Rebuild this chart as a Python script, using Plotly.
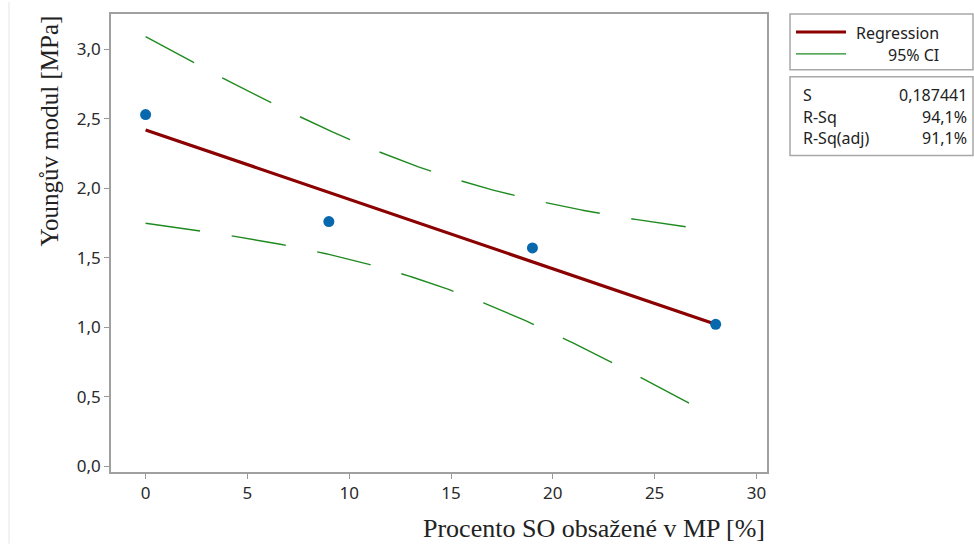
import numpy as np
import plotly.graph_objects as go

# ---- data ----
x_pct = [0, 9, 19, 28]                 # Procento SO obsažené v MP [%]
y_mod = [2.53, 1.76, 1.57, 1.02]       # Youngův modul [MPa]
stat_labels = ["S", "R-Sq", "R-Sq(adj)"]
stat_values = ["0,187441", "94,1%", "91,1%"]
S_value = 0.187441
t_crit = 4.303                          # t(0.975, df=2)
x_ticks = [0, 5, 10, 15, 20, 25, 30]
y_ticks = [0, 0.5, 1.0, 1.5, 2.0, 2.5, 3.0]

# ---- fit ----
xa = np.array(x_pct, float)
ya = np.array(y_mod, float)
slope, intercept = np.polyfit(xa, ya, 1)
xf = np.linspace(xa.min(), xa.max(), 200)
yf = intercept + slope * xf
n = len(xa)
sxx = ((xa - xa.mean()) ** 2).sum()
half = t_crit * S_value * np.sqrt(1 / n + (xf - xa.mean()) ** 2 / sxx)

W, H = 974, 544
L, R, T, B = 111, 767, 12, 472
pw, ph = R - L, B - T
def px(xp):
    return (xp - L) / pw
def py(yp):
    return (B - yp) / ph

fig = go.Figure()
ci_col = "#1f8a1f"
fig.add_trace(go.Scatter(x=xf, y=yf + half, mode="lines",
                         line=dict(color=ci_col, width=1.4, dash="55px,32px"),
                         hoverinfo="skip"))
fig.add_trace(go.Scatter(x=xf, y=yf - half, mode="lines",
                         line=dict(color=ci_col, width=1.4, dash="55px,32px"),
                         hoverinfo="skip"))
fig.add_trace(go.Scatter(x=xf, y=yf, mode="lines",
                         line=dict(color="#8b0000", width=3.2), hoverinfo="skip"))
fig.add_trace(go.Scatter(x=x_pct, y=y_mod, mode="markers",
                         marker=dict(color="#0868ad", size=11)))

tickfont = dict(family="Noto Sans, DejaVu Sans, sans-serif", size=17, color="#2a2a2a")
fig.update_layout(
    width=W, height=H, showlegend=False,
    margin=dict(l=L, r=W - R, t=T, b=H - B, pad=0),
    paper_bgcolor="white", plot_bgcolor="white",
    separators=", ",
    xaxis=dict(range=[-1.70, 30.52], tickvals=x_ticks, ticks="outside", ticklen=5,
               tickcolor="#999999", showgrid=False, zeroline=False, showline=True,
               linecolor="#a0a0a0", linewidth=1.5, mirror=True, tickfont=tickfont),
    yaxis=dict(range=[-0.043, 3.254], tickvals=y_ticks, tickformat=".1f", ticks="outside",
               ticklen=5, tickcolor="#999999", showgrid=False, zeroline=False,
               showline=True, linecolor="#a0a0a0", linewidth=1.5, mirror=True,
               tickfont=tickfont),
)

serif_x = dict(family="Liberation Serif, Times New Roman, serif", size=26, color="#222222")
serif_y = dict(family="Liberation Serif, Times New Roman, serif", size=25, color="#222222")
ann = []
ann.append(dict(xref="paper", yref="paper", x=px(767), y=py(529), text="Procento SO obsažené v MP [%]",
                showarrow=False, xanchor="right", yanchor="middle", font=serif_x))
ann.append(dict(xref="paper", yref="paper", x=px(49), y=py(12), text="Youngův modul [MPa]",
                showarrow=False, textangle=-90, xanchor="center", yanchor="top", font=serif_y))

lfont = dict(family="Noto Sans, DejaVu Sans, sans-serif", size=16, color="#222222")
ann.append(dict(xref="paper", yref="paper", x=px(941), y=py(31), text="Regression",
                showarrow=False, xanchor="right", yanchor="middle", font=lfont))
ann.append(dict(xref="paper", yref="paper", x=px(941), y=py(53), text="95% CI",
                showarrow=False, xanchor="right", yanchor="middle", font=lfont))
rows_y = [93, 115, 137]
for lab, val, ry in zip(stat_labels, stat_values, rows_y):
    ann.append(dict(xref="paper", yref="paper", x=px(801), y=py(ry), text=lab,
                    showarrow=False, xanchor="left", yanchor="middle", font=lfont))
    ann.append(dict(xref="paper", yref="paper", x=px(969), y=py(ry), text=val,
                    showarrow=False, xanchor="right", yanchor="middle", font=lfont))

shapes = []
box = dict(color="#a8a8a8", width=1.5)
shapes.append(dict(type="rect", xref="paper", yref="paper", x0=px(790), x1=px(973),
                   y0=py(68), y1=py(12), line=box, fillcolor="rgba(0,0,0,0)"))
shapes.append(dict(type="rect", xref="paper", yref="paper", x0=px(790), x1=px(973),
                   y0=py(154), y1=py(75), line=box, fillcolor="rgba(0,0,0,0)"))
shapes.append(dict(type="line", xref="paper", yref="paper", x0=px(796), x1=px(846),
                   y0=py(30), y1=py(30), line=dict(color="#8b0000", width=3)))
shapes.append(dict(type="line", xref="paper", yref="paper", x0=px(796), x1=px(846),
                   y0=py(52), y1=py(52), line=dict(color=ci_col, width=1.4)))
shapes.append(dict(type="line", xref="paper", yref="paper", x0=px(9), x1=px(9),
                   y0=py(0), y1=py(544), line=dict(color="#e6e6e6", width=1)))
fig.update_layout(annotations=ann, shapes=shapes)

fig.write_html("out.html")
